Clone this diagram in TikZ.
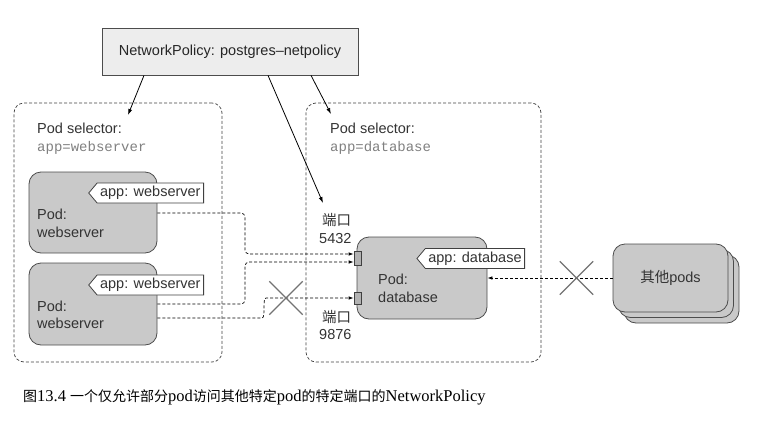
\documentclass[tikz,border=0pt]{standalone}
\usepackage{fontspec}
\setmainfont{Liberation Sans}
\setmonofont{Liberation Mono}
\newfontfamily\cjk{Noto Sans CJK SC}
\newfontfamily\capfont{Liberation Serif}
\usetikzlibrary{arrows.meta,shapes.symbols,shapes.misc}
\begin{document}
\begin{tikzpicture}[x=1pt,y=-1pt,
  txt/.style={font=\fontsize{14.5}{17}\selectfont, text=black!80, inner sep=0pt, anchor=base west},
  mono/.style={font=\ttfamily\fontsize{14}{17}\selectfont, text=black!50, inner sep=0pt, anchor=base west},
  pod/.style={draw=black!70, fill=black!21, rounded corners=12pt, line width=0.8pt, inner sep=0pt},
  tag/.style={signal, signal to=west, signal pointer angle=100, draw=black!75, fill=white, line width=0.8pt,
              font=\fontsize{14.5}{17}\selectfont, text=black!80, inner xsep=3pt, inner ysep=0pt, minimum height=20pt, anchor=east},
  container/.style={draw=black!75, dash pattern=on 3pt off 2pt, rounded corners=10pt, line width=0.7pt, inner sep=0pt},
  flow/.style={draw=black, dash pattern=on 3pt off 2pt, line width=0.7pt, -{Latex[length=5pt,width=3.5pt]}, rounded corners=4pt},
  sel/.style={draw=black, line width=0.8pt, -{Latex[length=6pt,width=4pt]}},
  xmark/.style={cross out, draw=black!55, line width=1.3pt, minimum size=32pt, inner sep=0pt},
  portbox/.style={draw=black!75, fill=black!30, minimum width=7pt, inner sep=0pt, line width=0.7pt},
  policy/.style={draw=black!70, fill=black!7, line width=0.8pt, inner sep=0pt, minimum width=256pt, minimum height=47pt,
                 font=\fontsize{14.5}{17}\selectfont, text=black!85}
]
\useasboundingbox (0,0) rectangle (769,434);

% containers
\node[container, minimum width=208pt, minimum height=259pt] (lc) at (118,232.5) {};
\node[container, minimum width=235pt, minimum height=259pt] (rc) at (423.5,232.5) {};

% policy box
\node[policy] (np) at (230,51.5) {NetworkPolicy: postgres--netpolicy};

% selector texts
\node[txt] (ls1) at (37,133) {Pod selector:};
\node[mono] (ls2) at (37,151) {app=webserver};
\node[txt] (rs1) at (330,133) {Pod selector:};
\node[mono] (rs2) at (330,151) {app=database};

% arrows from policy
\coordinate (a1) at (128,115);
\coordinate (a2) at (323,203);
\coordinate (a3) at (331,114);
\draw[sel] ([xshift=-86pt]np.south) -- (a1);
\draw[sel] ([xshift=38pt]np.south) -- (a2);
\draw[sel] ([xshift=81pt]np.south) -- (a3);

% webserver pods
\node[pod, minimum width=128pt, minimum height=81pt] (ws1) at (93,212.5) {};
\node[tag] (t1) at (204,193) {app: webserver};
\node[txt] (w1a) at (37,219) {Pod:};
\node[txt] (w1b) at (37,237) {webserver};

\node[pod, minimum width=128pt, minimum height=82pt] (ws2) at (93,304) {};
\node[tag] (t2) at (204,285) {app: webserver};
\node[txt] (w2a) at (37,311) {Pod:};
\node[txt] (w2b) at (37,328.5) {webserver};

% database pod
\node[pod, minimum width=130pt, minimum height=82pt] (db) at (422,278) {};
\node[tag] (t3) at (525,258.5) {app: database};
\node[txt] (d1) at (378,284) {Pod:};
\node[txt] (d2) at (378,302) {database};

% ports
\node[portbox, minimum height=14pt] (p1) at (357.5,258) {};
\node[portbox, minimum height=12pt] (p2) at (357.5,298) {};
\node[txt] (pl1) at (322,225) {\cjk 端口};
\node[txt] (pn1) at (319,243) {5432};
\node[txt] (pl2) at (322,322) {\cjk 端口};
\node[txt] (pn2) at (319,339) {9876};

% other pods
\node[pod, minimum width=115pt, minimum height=68pt] (op3) at (681.5,289) {};
\node[pod, minimum width=115pt, minimum height=68pt] (op2) at (676,283.5) {};
\node[pod, minimum width=115pt, minimum height=68pt, font=\fontsize{14.5}{17}\selectfont, text=black!80] (op1) at (670.5,278) {{\cjk 其他}pods};

% flows
\draw[flow] ([yshift=-0.5pt]ws1.east) -- (245,213) -- (245,254) -- ([yshift=4pt]p1.west);
\draw[flow] (ws2.east) -- (245,304) -- (245,262) -- ([yshift=-4pt]p1.west);
\draw[flow] ([yshift=-14pt]ws2.east) -- (258,318) .. controls (266,318) and (262,298) .. (270,298) -- (p2.west);
\draw[flow] (op1.west) -- (db.east);

% crosses
\node[xmark] (x1) at (286,298) {};
\node[xmark] (x2) at (576.5,278) {};

% caption
\node[anchor=base west, inner sep=0pt, font=\capfont\fontsize{16.5}{20}\selectfont] (cap) at (23,401)
  {{\cjk\fontsize{14}{20}\selectfont 图}13.4 {\cjk\fontsize{14}{20}\selectfont 一个仅允许部分}pod{\cjk\fontsize{14}{20}\selectfont 访问其他特定}pod{\cjk\fontsize{14}{20}\selectfont 的特定端口的}NetworkPolicy};
\end{tikzpicture}
\end{document}
